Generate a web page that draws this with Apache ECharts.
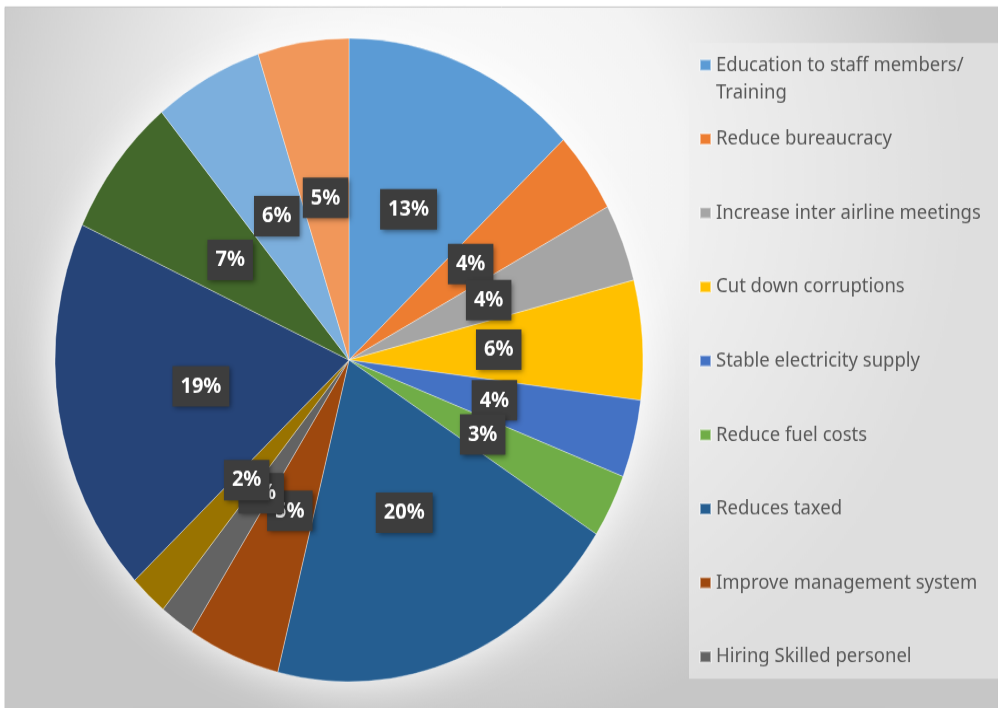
<!DOCTYPE html>
<html><head><meta charset="utf-8">
<script src="https://cdn.jsdelivr.net/npm/echarts@6/dist/echarts.min.js"></script>
<style>
html,body{margin:0;padding:0;background:#ffffff;overflow:hidden}
#wrap{width:998px;height:708px;overflow:hidden;position:relative}
#c{width:998px;height:647px;transform:scaleY(1.0943);transform-origin:0 0}
</style>
</head><body><div id="wrap"><div id="c"></div></div>
<script>
// ---- data ----
const categories = [
  'Education to staff members/\nTraining',
  'Reduce bureaucracy',
  'Increase inter airline meetings',
  'Cut down corruptions',
  'Stable electricity supply',
  'Reduce fuel costs',
  'Reduces taxed',
  'Improve management system',
  'Hiring Skilled personel',
  'Category 10',
  'Category 11',
  'Category 12',
  'Category 13',
  'Category 14'
];
const values = [13.0, 4.1, 3.9, 6.0, 3.9, 3.2, 19.8, 5.1, 1.9, 2.1, 18.9, 7.1, 6.0, 5.0];
const colors = ['#5B9BD5','#ED7D31','#A5A5A5','#FFC000','#4472C4','#70AD47',
                '#255E91','#9E480E','#636363','#997300','#264478','#43682B','#7CAFDD','#F1975A'];
const legendNames = categories.slice(0, 9);

// ---- layout ----
const FONT = '"Noto Sans", "Open Sans", sans-serif';
const pieCenter = [349, 329];
const pieRadius = 294;
const legendX = 699;
const legendFirst = 59.4, legendStep = 67.6;

const chart = echarts.init(document.getElementById('c'), null, {renderer: 'canvas'});

const legends = legendNames.map((name, i) => {
  const multi = name.indexOf('\n') >= 0;
  const lh = multi ? 25.6 : 22;
  const boxH = multi ? lh * 3 : lh;
  return {
    show: true,
    orient: 'vertical',
    left: legendX,
    top: legendFirst + i * legendStep - boxH / 2,
    padding: 0,
    itemWidth: 11,
    itemHeight: 10,
    itemGap: 0,
    icon: 'rect',
    data: [name],
    // multi-line entry: blank first line keeps the marker beside the first text line
    formatter: multi ? (n => '\u00a0\n' + n) : (n => n),
    textStyle: {
      fontFamily: FONT,
      fontSize: 18.5,
      color: '#595959',
      lineHeight: lh
    }
  };
});

const option = {
  animation: false,
  color: colors,
  graphic: [
    {
      type: 'rect', z: -10, silent: true,
      shape: {x: 5, y: 6.4, width: 993, height: 641},
      style: {
        fill: new echarts.graphic.RadialGradient(0.45, 0.25, 0.8, [
          {offset: 0, color: '#ffffff'},
          {offset: 0.45, color: '#f3f3f3'},
          {offset: 1, color: '#c6c6c6'}
        ]),
        stroke: '#c4c4c4', lineWidth: 1
      }
    },
    {
      type: 'rect', z: -9, silent: true,
      shape: {x: 689, y: 39.3, width: 309, height: 581},
      style: {fill: 'rgba(238,238,238,0.6)'}
    }
  ],
  legend: legends,
  series: [
    {
      type: 'pie',
      name: 'halo',
      silent: true,
      z: 1,
      center: pieCenter,
      radius: pieRadius,
      label: {show: false},
      labelLine: {show: false},
      itemStyle: {color: '#ffffff', shadowBlur: 40, shadowColor: 'rgba(255,255,255,1)'},
      data: [{name: '', value: 1}]
    },
    {
      type: 'pie',
      z: 2,
      center: pieCenter,
      radius: pieRadius,
      startAngle: 90,
      clockwise: true,
      avoidLabelOverlap: false,
      labelLayout: {hideOverlap: false},
      itemStyle: {borderColor: 'rgba(255,255,255,0.45)', borderWidth: 0.8},
      label: {
        show: true,
        position: 'inside',
        formatter: p => Math.round(p.percent) + '%',
        color: '#ffffff',
        fontFamily: FONT,
        fontWeight: 'bold',
        fontSize: 20,
        lineHeight: 21,
        backgroundColor: '#3d3d3d',
        padding: [8, 8, 8, 8],
        shadowColor: 'rgba(0,0,0,0.45)',
        shadowBlur: 5,
        shadowOffsetX: 2,
        shadowOffsetY: 2
      },
      labelLine: {show: false},
      emphasis: {scale: false},
      data: categories.map((n, i) => ({name: n, value: values[i]}))
    }
  ]
};
chart.setOption(option);
</script>
</body></html>
